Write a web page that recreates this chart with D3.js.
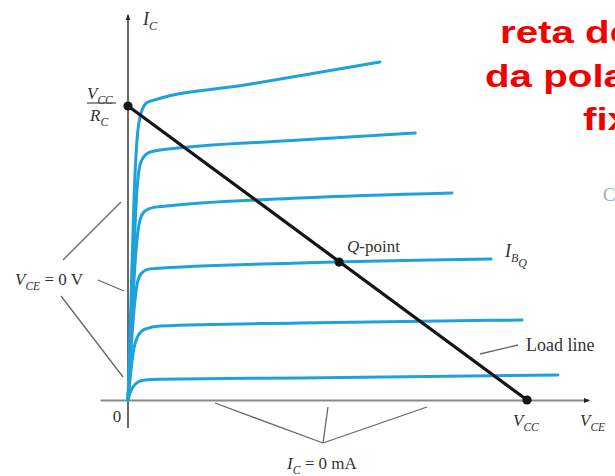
<!DOCTYPE html>
<html>
<head>
<meta charset="utf-8">
<script src="https://cdn.jsdelivr.net/npm/d3@7"></script>
<style>
    body { margin: 0; background: #fff; }
    svg text { font-family: "Liberation Serif", "DejaVu Serif", serif; fill: #333; }
</style>
</head>
<body>
<div id="chart"></div>
<script>
// valores: VCE em V, IC em mA
const VCC = 20
const IC_SAT = 10 // VCC / RC

// curvas de saída, de IB mais alto para o mais baixo: [VCE, IC]
const curveIb6 = [[0, 0], [0.15, 3.4], [0.3, 6.8], [0.45, 8.84], [0.65, 9.75], [0.95, 10.12], [1.3, 10.2], [6, 10.73], [12.63, 11.5]]
const curveIb5 = [[0, 0], [0.15, 2.38], [0.3, 5.1], [0.45, 7.14], [0.65, 8.1], [1.0, 8.4], [1.6, 8.5], [8.62, 8.84], [14.4, 9.08]]
const curveIb4 = [[0, 0], [0.15, 2.04], [0.3, 4.08], [0.45, 5.44], [0.6, 6.12], [0.85, 6.43], [1.35, 6.56], [8.62, 6.87], [16.24, 7.04]]
const curveIb3 = [[0, 0], [0.15, 1.7], [0.3, 3.06], [0.45, 3.91], [0.65, 4.29], [1.1, 4.46], [8.62, 4.66], [18.2, 4.8]]
const curveIb2 = [[0, 0], [0.15, 1.02], [0.3, 1.77], [0.5, 2.18], [0.85, 2.41], [1.6, 2.52], [8.62, 2.62], [19.75, 2.72]]
const curveIb1 = [[0, 0], [0.1, 0.24], [0.25, 0.44], [0.5, 0.61], [0.85, 0.68], [1.6, 0.71], [8.62, 0.75], [21.55, 0.85]]
const curves = [curveIb6, curveIb5, curveIb4, curveIb3, curveIb2, curveIb1]

// reta de carga e ponto Q
const loadLine = [[0, IC_SAT], [VCC, 0]]
const qPoint = [10.58, 4.69]

const titleLines = ['reta de', 'da pola', 'fix']

const width = 615
const height = 476

const svg = d3.select('#chart').append('svg')
    .attr('width', width)
    .attr('height', height)

// escalas
const x = d3.scaleLinear().domain([0, VCC]).range([128, 527])
const y = d3.scaleLinear().domain([0, IC_SAT]).range([400, 106])

// setas dos eixos
const defs = svg.append('defs')
defs.append('marker')
    .attr('id', 'arrow')
    .attr('viewBox', '0 0 10 10')
    .attr('refX', 9).attr('refY', 5)
    .attr('markerWidth', 6).attr('markerHeight', 6)
    .attr('markerUnits', 'userSpaceOnUse')
    .attr('orient', 'auto')
    .append('path')
    .attr('d', 'M0,1 L10,5 L0,9 Z')
    .attr('fill', '#222')

// eixo x (cinza, um pouco além de VCC)
const xAxisScale = x.copy().domain([-1.4, 23.1]).range([x(-1.4), x(23.1)])
const gx = svg.append('g')
    .attr('transform', `translate(0,${y(0)})`)
    .call(d3.axisBottom(xAxisScale).tickValues([]).tickSizeOuter(0))
gx.select('.domain')
    .attr('stroke', '#8a8a8a')
    .attr('stroke-width', 2)
    .attr('marker-end', 'url(#arrow)')

// eixo y
const yAxisScale = y.copy().domain([-0.95, 13.1]).range([y(-0.95), y(13.1)])
const gy = svg.append('g')
    .attr('transform', `translate(${x(0)},0)`)
    .call(d3.axisLeft(yAxisScale).tickValues([]).tickSizeOuter(0))
gy.select('.domain')
    .attr('d', `M0,${y(-0.95)}V${y(13.1)}`)
    .attr('stroke', '#444')
    .attr('stroke-width', 1.6)
    .attr('marker-end', 'url(#arrow)')

// curvas IB
const line = d3.line()
    .x(d => x(d[0]))
    .y(d => y(d[1]))
    .curve(d3.curveMonotoneX)

svg.append('g').selectAll('path')
    .data(curves)
    .join('path')
    .attr('d', line)
    .attr('fill', 'none')
    .attr('stroke', '#1ea2dc')
    .attr('stroke-width', 3)
    .attr('stroke-linecap', 'round')

// reta de carga
svg.append('path')
    .datum(loadLine)
    .attr('d', d3.line().x(d => x(d[0])).y(d => y(d[1])))
    .attr('stroke', '#151515')
    .attr('stroke-width', 3.2)
    .attr('fill', 'none')

svg.append('g').selectAll('circle')
    .data([loadLine[0], loadLine[1], qPoint])
    .join('circle')
    .attr('cx', d => x(d[0]))
    .attr('cy', d => y(d[1]))
    .attr('r', 4.6)
    .attr('fill', '#151515')

// linhas de chamada (cinza)
const leaders = [
    [[63, 260], [121, 202]],
    [[98, 280], [124, 291]],
    [[61, 296], [123, 377]],
    [[215, 403], [323, 443]],
    [[328, 407], [323, 443]],
    [[427, 407], [323, 443]],
    [[480, 354], [518, 345]]
]
svg.append('g').selectAll('line')
    .data(leaders)
    .join('line')
    .attr('x1', d => d[0][0]).attr('y1', d => d[0][1])
    .attr('x2', d => d[1][0]).attr('y2', d => d[1][1])
    .attr('stroke', '#666')
    .attr('stroke-width', 1.3)

// texto com subscrito
function subLabel(px, py, main, sub, size, rest) {
    const t = svg.append('text')
        .attr('x', px).attr('y', py)
        .style('font-size', size + 'px')
    t.append('tspan').text(main).style('font-style', 'italic')
    t.append('tspan').text(sub)
        .style('font-style', 'italic')
        .style('font-size', (size * 0.68) + 'px')
        .attr('dy', size * 0.28)
    if (rest) {
        t.append('tspan').text(rest).attr('dy', -size * 0.28)
    }
    return t
}

subLabel(x(0) + 15, 25, 'I', 'C', 18)

// VCC / RC
subLabel(87, 99, 'V', 'CC', 17)
svg.append('line')
    .attr('x1', 87).attr('x2', 116)
    .attr('y1', y(IC_SAT) - 3).attr('y2', y(IC_SAT) - 3)
    .attr('stroke', '#444').attr('stroke-width', 1.2)
subLabel(90, 121, 'R', 'C', 17)

subLabel(15, 285, 'V', 'CE', 17, ' = 0 V')

svg.append('text')
    .attr('x', x(0) - 11).attr('y', 422)
    .attr('text-anchor', 'middle')
    .style('font-size', '17px')
    .text('0')

subLabel(x(VCC) - 14, 426, 'V', 'CC', 17)
subLabel(580, 426, 'V', 'CE', 17)

// Q-point
const qText = svg.append('text')
    .attr('x', x(qPoint[0]) + 8).attr('y', y(qPoint[1]) - 10)
    .style('font-size', '17px')
qText.append('tspan').text('Q').style('font-style', 'italic')
qText.append('tspan').text('-point')

// I_BQ
const ib = svg.append('text').attr('x', 505).attr('y', 257).style('font-size', '18px')
ib.append('tspan').text('I').style('font-style', 'italic')
ib.append('tspan').text('B').style('font-style', 'italic').style('font-size', '12px').attr('dy', 5)
ib.append('tspan').text('Q').style('font-style', 'italic').style('font-size', '12px').attr('dy', 5)

svg.append('text')
    .attr('x', 526).attr('y', 351)
    .style('font-size', '18px')
    .text('Load line')

subLabel(287, 469, 'I', 'C', 17, ' = 0 mA')

// caractere cortado na borda
svg.append('text')
    .attr('x', 603).attr('y', 201)
    .style('font-size', '18px')
    .style('fill', '#aaa')
    .text('C')

// título vermelho (cortado à direita)
const titlePos = [[500, 43], [485, 87], [583, 130]]
svg.append('g').selectAll('text')
    .data(titleLines)
    .join('text')
    .attr('transform', (d, i) => `translate(${titlePos[i][0]},${titlePos[i][1]}) scale(1.3,1)`)
    .style('font-family', '"Liberation Sans", Arial, sans-serif')
    .style('font-weight', 'bold')
    .style('font-size', '31px')
    .style('fill', '#f20000')
    .text(d => d)
</script>
</body>
</html>
